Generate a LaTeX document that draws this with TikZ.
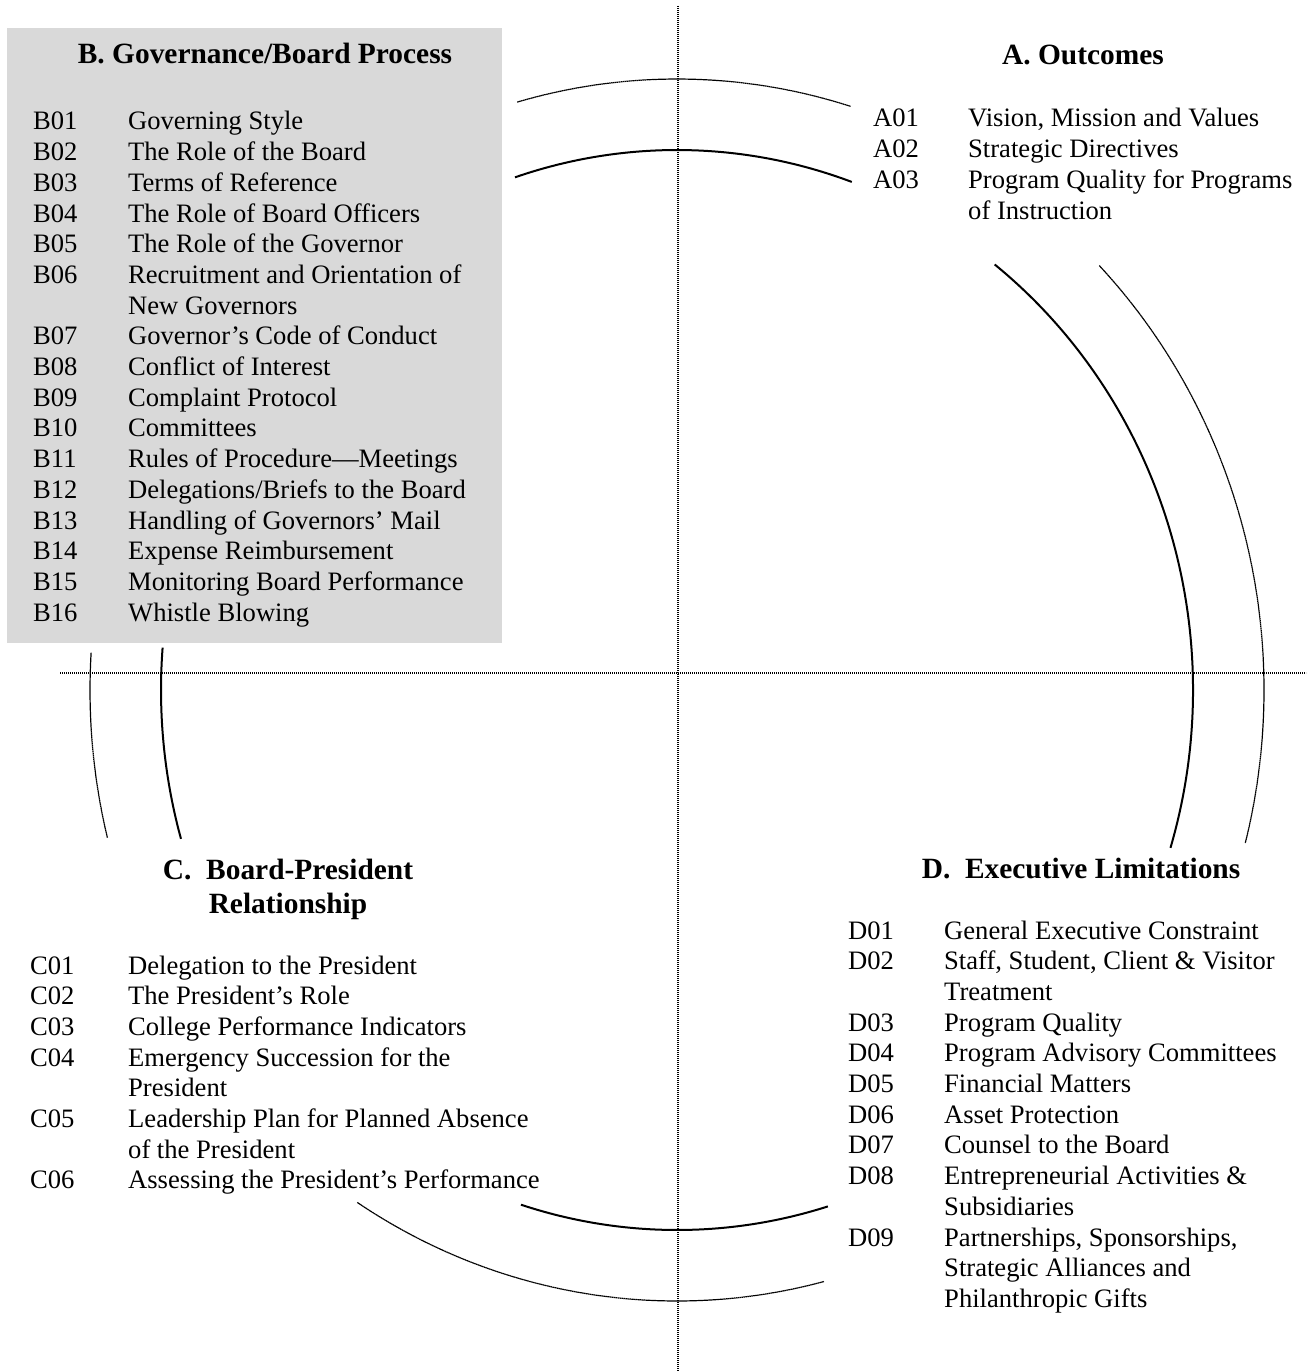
\documentclass[tikz,border=0pt]{standalone}
\usepackage{fontspec}
\setmainfont{Liberation Serif}
\begin{document}
\begin{tikzpicture}[x=1pt,y=1pt,
  body/.style={inner sep=0pt,anchor=base west,font=\fontsize{26.6}{30.7}\selectfont},
  head/.style={inner sep=0pt,anchor=base,font=\fontsize{29.4}{34}\selectfont\bfseries},
  axis/.style={line width=1.2pt,dash pattern=on 1.4pt off 0.6pt},
  inarc/.style={line width=2pt},
  outarc/.style={line width=1.2pt,dash pattern=on 1.6pt off 0.4pt}]
\useasboundingbox (0,0) rectangle (1306,-1372);
% gray panel
\fill[gray!30] (7,-28) rectangle (502,-643);
% axes
\coordinate (vt) at (678,-6);
\coordinate (vb) at (678,-1372);
\coordinate (hl) at (60,-673);
\coordinate (hr) at (1306,-673);
\draw[axis] (vt) -- (vb);
\draw[axis] (hl) -- (hr);
% ellipse centre
\coordinate (O) at (677,-690);
% inner arcs
\draw[inarc] (O) ++(108.3:516pt and 540pt) arc[start angle=108.3,end angle=70.2,x radius=516pt,y radius=540pt];
\draw[inarc] (O) ++(52:516pt and 540pt) arc[start angle=52,end angle=-17,x radius=516pt,y radius=540pt];
\draw[inarc] (O) ++(175.5:516pt and 540pt) arc[start angle=175.5,end angle=196,x radius=516pt,y radius=540pt];
\draw[inarc] (O) ++(252.4:516pt and 540pt) arc[start angle=252.4,end angle=287,x radius=516pt,y radius=540pt];
% outer arcs
\draw[outarc] (O) ++(105.8:587pt and 611pt) arc[start angle=105.8,end angle=72.8,x radius=587pt,y radius=611pt];
\draw[outarc] (O) ++(44:587pt and 611pt) arc[start angle=44,end angle=-14.5,x radius=587pt,y radius=611pt];
\draw[outarc] (O) ++(176.5:587pt and 611pt) arc[start angle=176.5,end angle=194,x radius=587pt,y radius=611pt];
\draw[outarc] (O) ++(237:587pt and 611pt) arc[start angle=237,end angle=284.5,x radius=587pt,y radius=611pt];
% A
\node[head] (Ah) at (1083,-65) {A. Outcomes};
\node[body] (Al) at (873,-127) {\begin{tabular}[t]{@{}p{95pt}@{}l@{}}
A01 & Vision, Mission and Values\\
A02 & Strategic Directives\\
A03 & Program Quality for Programs\\
 & of Instruction
\end{tabular}};
% B
\node[head] (Bh) at (265,-64) {B. Governance/Board Process};
\node[body] (Bl) at (33,-130) {\begin{tabular}[t]{@{}p{95pt}@{}l@{}}
B01 & Governing Style\\
B02 & The Role of the Board\\
B03 & Terms of Reference\\
B04 & The Role of Board Officers\\
B05 & The Role of the Governor\\
B06 & Recruitment and Orientation of\\
 & New Governors\\
B07 & Governor's Code of Conduct\\
B08 & Conflict of Interest\\
B09 & Complaint Protocol\\
B10 & Committees\\
B11 & Rules of Procedure---Meetings\\
B12 & Delegations/Briefs to the Board\\
B13 & Handling of Governors' Mail\\
B14 & Expense Reimbursement\\
B15 & Monitoring Board Performance\\
B16 & Whistle Blowing
\end{tabular}};
% C
\node[head] (Ch) at (288,-879) {\begin{tabular}[t]{@{}c@{}}
C.\ \ Board-President\\
Relationship
\end{tabular}};
\node[body] (Cl) at (30,-974) {\begin{tabular}[t]{@{}p{98pt}@{}l@{}}
C01 & Delegation to the President\\
C02 & The President's Role\\
C03 & College Performance Indicators\\
C04 & Emergency Succession for the\\
 & President\\
C05 & Leadership Plan for Planned Absence\\
 & of the President\\
C06 & Assessing the President's Performance
\end{tabular}};
% D
\node[head] (Dh) at (1081,-878) {D.\ \ Executive Limitations};
\node[body] (Dl) at (848,-939) {\begin{tabular}[t]{@{}p{96pt}@{}l@{}}
D01 & General Executive Constraint\\
D02 & Staff, Student, Client \& Visitor\\
 & Treatment\\
D03 & Program Quality\\
D04 & Program Advisory Committees\\
D05 & Financial Matters\\
D06 & Asset Protection\\
D07 & Counsel to the Board\\
D08 & Entrepreneurial Activities \&\\
 & Subsidiaries\\
D09 & Partnerships, Sponsorships,\\
 & Strategic Alliances and\\
 & Philanthropic Gifts
\end{tabular}};
\end{tikzpicture}
\end{document}
